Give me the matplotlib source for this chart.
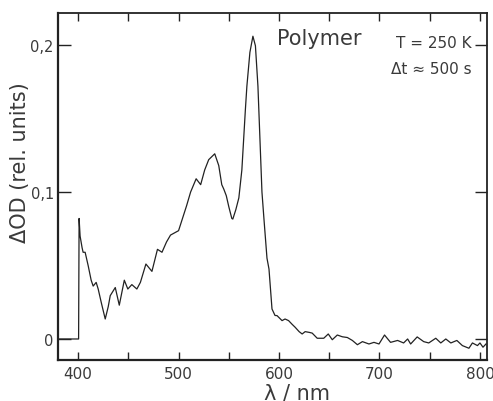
import matplotlib
matplotlib.use("Agg")
import matplotlib.pyplot as plt
from matplotlib.ticker import FixedLocator, FixedFormatter

wavelength = [380, 400.5, 401, 402, 403, 404, 405, 407, 410, 413, 415, 418, 420, 423, 427,
              430, 432, 437, 441, 446, 449.5, 453.5, 458.5, 462, 467.5, 473.5, 479, 483.5,
              488, 492, 500, 508, 512, 517.5, 522, 526, 530, 536, 540, 543, 545, 547.5, 550,
              553, 554, 557, 560, 563, 566.5, 568, 571, 574, 576.5, 579, 581.5, 583, 585,
              588, 590, 593, 596, 598, 603, 606, 609.5, 613, 616, 620, 623, 626, 630, 633,
              638, 644.5, 649, 653, 658, 663, 668, 673, 678, 683, 689.5, 694.5, 699.5, 705,
              711, 718, 724, 728, 731, 737.5, 744, 749, 756, 761, 766, 771, 777, 782.5, 789,
              792.5, 797.5, 800, 803, 806]
delta_od = [0, 0, 0.082, 0.070, 0.066, 0.062, 0.059, 0.059, 0.050, 0.040, 0.036, 0.0385,
            0.034, 0.025, 0.0136, 0.022, 0.0295, 0.035, 0.023, 0.040, 0.034, 0.037, 0.034,
            0.0385, 0.051, 0.046, 0.061, 0.059, 0.066, 0.0707, 0.0737, 0.0907, 0.100, 0.109,
            0.105, 0.115, 0.122, 0.126, 0.118, 0.105, 0.102, 0.0975, 0.090, 0.082, 0.0816,
            0.088, 0.096, 0.115, 0.156, 0.172, 0.195, 0.206, 0.1995, 0.172, 0.127, 0.100,
            0.0816, 0.055, 0.0476, 0.0204, 0.016, 0.0159, 0.0125, 0.0136, 0.0125, 0.010,
            0.008, 0.005, 0.0034, 0.005, 0.0045, 0.004, 0.0005, 0.0005, 0.0034, -0.0005,
            0.0027, 0.0015, 0.001, -0.001, -0.0039, -0.0018, -0.0034, -0.0023, -0.0034,
            0.0027, -0.0023, -0.001, -0.0027, 0, -0.0034, 0.0014, -0.0018, -0.0027, 0.0005,
            -0.0027, 0, -0.0027, -0.001, -0.0045, -0.0063, -0.0027, -0.0045, -0.0027,
            -0.0056, -0.0034]

x_ticks = [400, 500, 600, 700, 800]
x_minor = [450, 550, 650, 750]
y_ticks = [0, 0.1, 0.2]
y_tick_labels = ["0", "0,1", "0,2"]

plt.rcParams['font.family'] = ['DejaVu Sans']
ink = "#222222"
txt = "#3a3a3a"

fig = plt.figure(figsize=(4.93, 4.02), dpi=100)
ax = fig.add_axes([58/493, 1 - 361/402, (486.7 - 58)/493, (361 - 14)/402])
ax.plot(wavelength, delta_od, color=ink, lw=0.9)

ax.set_xlim(380, 806.7)
ax.set_ylim(-0.0143, 0.2218)

ax.xaxis.set_major_locator(FixedLocator(x_ticks))
ax.xaxis.set_minor_locator(FixedLocator(x_minor))
ax.yaxis.set_major_locator(FixedLocator(y_ticks))
ax.yaxis.set_major_formatter(FixedFormatter(y_tick_labels))

ax.tick_params(axis='x', which='both', direction='in', top=True, length=6, width=1.0,
               color=ink, labelsize=11, labelcolor=txt, pad=4)
ax.tick_params(axis='y', which='major', direction='in', right=True, length=9, width=1.0,
               color=ink, labelsize=10.5, labelcolor=txt, pad=3)

for side, sp in ax.spines.items():
    sp.set_color(ink)
    sp.set_linewidth(1.6 if side in ('left', 'bottom') else 1.3)

ax.set_xlabel("λ / nm", fontsize=15, color=txt)
ax.xaxis.set_label_coords(0.557, -0.064)
ax.set_ylabel("ΔOD (rel. units)", fontsize=15, color=txt)
ax.yaxis.set_label_coords(-0.066, 0.571)

ax.text(0.512, 0.928, "Polymer", transform=ax.transAxes, fontsize=15,
        color=txt, ha='left', va='center')
ax.text(0.965, 0.916, "T = 250 K", transform=ax.transAxes, fontsize=11,
        color=txt, ha='right', va='center')
ax.text(0.965, 0.841, "Δt ≈ 500 s", transform=ax.transAxes, fontsize=11,
        color=txt, ha='right', va='center')

fig.savefig("out.png", dpi=100)
